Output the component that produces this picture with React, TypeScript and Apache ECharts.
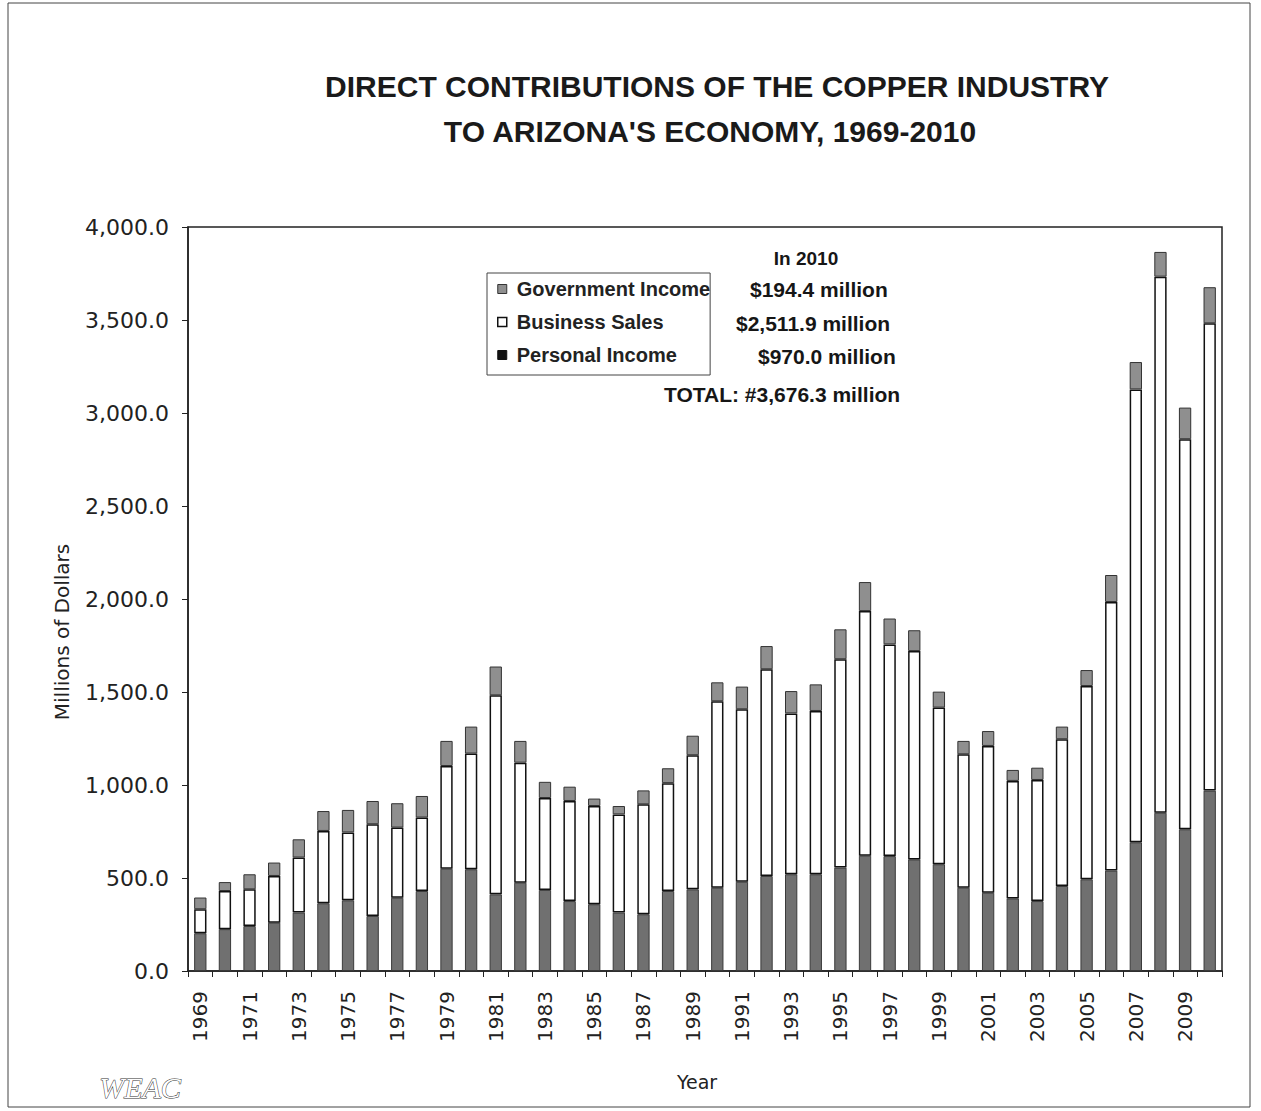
import React, { useEffect, useRef } from "react";
import * as echarts from "echarts";

const years = [
  "1969", "1970", "1971", "1972", "1973", "1974", "1975", "1976", "1977", "1978",
  "1979", "1980", "1981", "1982", "1983", "1984", "1985", "1986", "1987", "1988",
  "1989", "1990", "1991", "1992", "1993", "1994", "1995", "1996", "1997", "1998",
  "1999", "2000", "2001", "2002", "2003", "2004", "2005", "2006", "2007", "2008",
  "2009", "2010",
];

// Millions of dollars
const personalIncome = [
  203, 225, 242, 260, 314, 364, 380, 296, 394, 430,
  550, 547, 412, 475, 436, 376, 359, 314, 305, 430,
  439, 448, 480, 511, 520, 520, 556, 620, 618, 600,
  574, 448, 421, 390, 376, 457, 493, 540, 692, 851,
  762, 970.0,
];

const businessSales = [
  129, 205, 197, 251, 296, 389, 365, 493, 377, 395,
  552, 622, 1070, 645, 494, 538, 528, 528, 591, 580,
  721, 1002, 927, 1111, 865, 878, 1120, 1315, 1138, 1120,
  842, 717, 789, 632, 651, 789, 1039, 1444, 2435, 2882,
  2097, 2511.9,
];

const governmentIncome = [
  63, 48, 81, 72, 98, 107, 121, 125, 131, 116,
  135, 145, 155, 117, 87, 77, 40, 45, 75, 80,
  105, 102, 122, 125, 120, 143, 161, 156, 139, 112,
  86, 72, 80, 59, 66, 68, 86, 145, 147, 133,
  170, 194.4,
];

const titleLines = [
  "DIRECT CONTRIBUTIONS OF THE COPPER INDUSTRY",
  "TO ARIZONA'S ECONOMY, 1969-2010",
];

const noteLines = [
  "In 2010",
  "$194.4 million",
  "$2,511.9 million",
  "$970.0 million",
  "TOTAL: #3,676.3 million",
];

const seriesNames = ["Personal Income", "Business Sales", "Government Income"];

const fmt = (v: number) =>
  v.toLocaleString("en-US", { minimumFractionDigits: 1, maximumFractionDigits: 1 });

export default function App() {
  const ref = useRef<HTMLDivElement>(null);

  useEffect(() => {
    if (!ref.current) return;
    const chart = echarts.init(ref.current, null, { renderer: "svg" });

    const noteStyle = {
      fontFamily: "Liberation Sans",
      fontSize: 21,
      fontWeight: "bold",
      fill: "#161616",
    };

    const option: any = {
      animation: false,
      backgroundColor: "#ffffff",
      textStyle: { fontFamily: "DejaVu Sans" },
      grid: {
        left: 188,
        right: 39,
        top: 227,
        bottom: 140,
        show: true,
        borderColor: "#222",
        borderWidth: 1.5,
        backgroundColor: "transparent",
      },
      legend: {
        orient: "vertical",
        left: 487,
        top: 273,
        padding: [6, 0, 10, 10],
        itemGap: 13,
        itemWidth: 9,
        itemHeight: 9,
        borderColor: "#444",
        borderWidth: 1,
        backgroundColor: "#fff",
        textStyle: {
          fontFamily: "Liberation Sans",
          fontSize: 20,
          fontWeight: "bold",
          color: "#222",
          padding: [0, 0, 0, 5],
        },
        data: [
          {
            name: seriesNames[2],
            icon: "rect",
            itemStyle: { color: "#8f8f8f", borderColor: "#333", borderWidth: 1 },
          },
          {
            name: seriesNames[1],
            icon: "rect",
            itemStyle: { color: "#fff", borderColor: "#111", borderWidth: 1.5 },
          },
          {
            name: seriesNames[0],
            icon: "rect",
            itemStyle: { color: "#111", borderColor: "#111", borderWidth: 1 },
          },
        ],
      },
      xAxis: {
        type: "category",
        data: years,
        axisLine: { lineStyle: { color: "#222", width: 1.5 } },
        axisTick: { show: true, interval: 0, length: 6, lineStyle: { color: "#222" } },
        axisLabel: {
          rotate: 90,
          interval: 1,
          fontSize: 20,
          color: "#222",
          margin: 20,
          fontFamily: "DejaVu Sans",
        },
      },
      yAxis: {
        type: "value",
        min: 0,
        max: 4000,
        interval: 500,
        axisLine: { show: true, lineStyle: { color: "#222", width: 1.5 } },
        axisTick: { show: true, length: 6, lineStyle: { color: "#222" } },
        splitLine: { show: false },
        axisLabel: {
          formatter: (v: number) => fmt(v),
          fontSize: 22,
          color: "#222",
          margin: 19,
          fontFamily: "DejaVu Sans",
        },
      },
      series: [
        {
          name: seriesNames[0],
          type: "bar",
          stack: "total",
          barWidth: "50%",
          data: personalIncome,
          itemStyle: { color: "#707070", borderColor: "#3a3a3a", borderWidth: 1 },
        },
        {
          name: seriesNames[1],
          type: "bar",
          stack: "total",
          barWidth: "50%",
          data: businessSales,
          itemStyle: { color: "#ffffff", borderColor: "#111", borderWidth: 1.5 },
        },
        {
          name: seriesNames[2],
          type: "bar",
          stack: "total",
          barWidth: "50%",
          data: governmentIncome,
          itemStyle: { color: "#8f8f8f", borderColor: "#333", borderWidth: 1 },
        },
      ],
      graphic: [
        {
          type: "rect",
          silent: true,
          z: -10,
          shape: { x: 8, y: 3, width: 1242, height: 1104 },
          style: { fill: "none", stroke: "#444", lineWidth: 1 },
        },
        {
          type: "text",
          x: 717,
          y: 86,
          style: {
            text: titleLines[0],
            fontFamily: "Liberation Sans",
            fontSize: 30,
            fontWeight: "bold",
            fill: "#1a1a1a",
            textAlign: "center",
            textVerticalAlign: "middle",
          },
        },
        {
          type: "text",
          x: 710,
          y: 131,
          style: {
            text: titleLines[1],
            fontFamily: "Liberation Sans",
            fontSize: 30,
            fontWeight: "bold",
            fill: "#1a1a1a",
            textAlign: "center",
            textVerticalAlign: "middle",
          },
        },
        {
          type: "text",
          x: 806,
          y: 258,
          style: { ...noteStyle, fontSize: 19, text: noteLines[0], textAlign: "center", textVerticalAlign: "middle" },
        },
        {
          type: "text",
          x: 750,
          y: 289,
          style: { ...noteStyle, text: noteLines[1], textAlign: "left", textVerticalAlign: "middle" },
        },
        {
          type: "text",
          x: 736,
          y: 323,
          style: { ...noteStyle, text: noteLines[2], textAlign: "left", textVerticalAlign: "middle" },
        },
        {
          type: "text",
          x: 758,
          y: 356,
          style: { ...noteStyle, text: noteLines[3], textAlign: "left", textVerticalAlign: "middle" },
        },
        {
          type: "text",
          x: 664,
          y: 394,
          style: { ...noteStyle, text: noteLines[4], textAlign: "left", textVerticalAlign: "middle" },
        },
        {
          type: "text",
          x: 62,
          y: 632,
          rotation: Math.PI / 2,
          style: {
            text: "Millions of Dollars",
            fontFamily: "DejaVu Sans",
            fontSize: 20,
            fill: "#222",
            textAlign: "center",
            textVerticalAlign: "middle",
          },
        },
        {
          type: "text",
          x: 697,
          y: 1082,
          style: {
            text: "Year",
            fontFamily: "DejaVu Sans",
            fontSize: 19,
            fill: "#222",
            textAlign: "center",
            textVerticalAlign: "middle",
          },
        },
        {
          type: "text",
          x: 140,
          y: 1087,
          style: {
            text: "WEAC",
            fontFamily: "Liberation Serif",
            fontStyle: "italic",
            fontSize: 30,
            fill: "#ffffff",
            stroke: "#333",
            lineWidth: 1,
            textAlign: "center",
            textVerticalAlign: "middle",
          },
        },
      ],
    };

    chart.setOption(option);
    return () => chart.dispose();
  }, []);

  return (
    <div
      ref={ref}
      style={{ position: "absolute", left: 0, top: 0, width: 1261, height: 1111 }}
    />
  );
}
